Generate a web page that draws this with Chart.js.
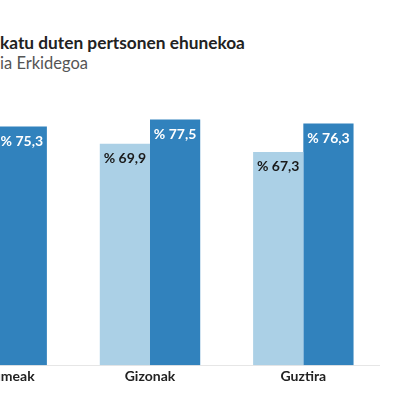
<!DOCTYPE html>
<html>
<head>
<meta charset="utf-8">
<script src="https://cdn.jsdelivr.net/npm/chart.js@4"></script>
<style>
  html, body { margin:0; padding:0; width:400px; height:400px; overflow:hidden; background:#fff; font-family: Lato, "Open Sans", sans-serif; }
  #title { position:absolute; left:0; top:32px; font-size:17.3px; font-weight:700; color:#222; white-space:nowrap; }
  #subtitle { position:absolute; left:0; top:53px; font-size:16.5px; color:#555; white-space:nowrap; }
  #wrap { position:absolute; left:-80px; top:80px; width:460px; height:308px; }
</style>
</head>
<body>
<div id="title">katu duten pertsonen ehunekoa</div>
<div id="subtitle">ia Erkidegoa</div>
<div id="wrap"><canvas id="c"></canvas></div>
<script>
const categories = ["Emakumeak", "Gizonak", "Guztira"];
const seriesLight = [64.8, 69.9, 67.3];
const seriesDark = [75.3, 77.5, 76.3];
const seriesNames = ["A", "B"];

const fmt = v => "% " + v.toFixed(1).replace(".", ",");

const labelPlugin = {
  id: "barLabels",
  afterDatasetsDraw(chart) {
    const ctx = chart.ctx;
    ctx.save();
    ctx.font = "bold 14px Lato, sans-serif";
    ctx.textAlign = "center";
    ctx.textBaseline = "middle";
    chart.data.datasets.forEach((ds, i) => {
      const meta = chart.getDatasetMeta(i);
      meta.data.forEach((bar, j) => {
        ctx.fillStyle = i === 0 ? "#1a1a1a" : "#ffffff";
        ctx.fillText(fmt(ds.data[j]), bar.x, bar.y + 15);
      });
    });
    ctx.restore();
  }
};

new Chart(document.getElementById("c"), {
  type: "bar",
  data: {
    labels: categories,
    datasets: [
      { label: seriesNames[0], data: seriesLight, backgroundColor: "#abd0e6", barPercentage: 1.0, categoryPercentage: 0.655 },
      { label: seriesNames[1], data: seriesDark, backgroundColor: "#3182bd", barPercentage: 1.0, categoryPercentage: 0.655 }
    ]
  },
  options: {
    responsive: true,
    maintainAspectRatio: false,
    animation: false,
    layout: { padding: { top: 0, bottom: 0, left: 0, right: 0 } },
    plugins: { legend: { display: false }, tooltip: { enabled: false } },
    scales: {
      x: {
        grid: { display: false, drawTicks: false },
        border: { display: true, color: "#e6e6e6" },
        ticks: { color: "#222", font: { family: "Lato", size: 14, weight: "bold" }, padding: 3 }
      },
      y: { display: false, min: 0, max: 90 }
    }
  },
  plugins: [labelPlugin]
});
</script>
</body>
</html>
